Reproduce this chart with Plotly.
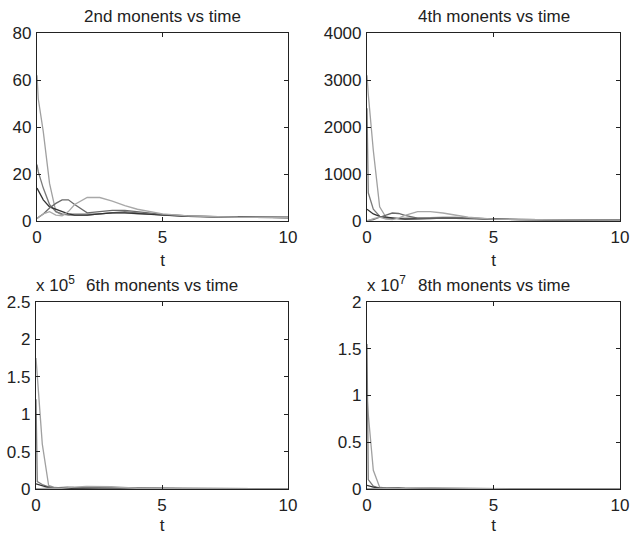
import plotly.graph_objects as go

# shared time samples
t = [0, 0.05, 0.25, 0.5, 0.75, 1.0, 1.25, 1.5, 2.0, 2.5, 3.0, 3.5, 4.0, 5.0, 6.0, 7.0, 8.0, 10.0]

# 2nd moments
m2_a = [62, 52, 38, 16, 4, 2.5, 3, 3, 3, 3, 3.5, 3.5, 3, 2.5, 2, 1.8, 1.6, 1.5]
m2_b = [24, 21, 14, 7, 4, 3, 2.5, 2.5, 2.5, 3, 3.5, 4, 3.5, 2.5, 2, 1.8, 1.6, 1.5]
m2_c = [14, 13, 9, 6, 5, 4, 3, 2.5, 2.5, 3, 3.5, 3.5, 3.2, 2.5, 2, 1.8, 1.6, 1.5]
m2_d = [1, 1.5, 3, 5.5, 7.5, 9, 9, 7, 3.5, 4, 4.5, 4.5, 4, 2.8, 2.2, 1.8, 1.6, 1.5]
m2_e = [1, 1.5, 3, 4, 2.5, 2.2, 4, 7, 10, 10, 8.5, 6.5, 5, 3, 2.2, 1.8, 1.6, 1.5]

# 4th moments
m4_a = [3100, 2700, 1500, 300, 80, 50, 60, 60, 60, 70, 80, 80, 60, 40, 30, 25, 22, 20]
m4_b = [2400, 600, 250, 100, 60, 50, 45, 45, 50, 60, 70, 70, 60, 40, 30, 25, 22, 20]
m4_c = [250, 230, 150, 100, 80, 60, 50, 40, 40, 50, 60, 60, 50, 40, 30, 25, 22, 20]
m4_d = [5, 8, 30, 80, 130, 170, 160, 120, 60, 60, 70, 70, 60, 40, 30, 25, 22, 20]
m4_e = [5, 10, 50, 80, 40, 30, 60, 120, 200, 200, 170, 120, 80, 40, 30, 25, 22, 20]

# 6th moments
m6_a = [175000, 150000, 60000, 5000, 2000, 1500, 1500, 2000, 2000, 2000, 1500, 1200, 800, 500, 400, 300, 250, 200]
m6_b = [120000, 10000, 6000, 3000, 1500, 1000, 1000, 1000, 1200, 1200, 1000, 800, 600, 500, 400, 300, 250, 200]
m6_c = [7000, 6500, 4000, 2000, 1200, 1000, 900, 900, 1000, 1000, 900, 700, 500, 400, 350, 300, 250, 200]
m6_d = [200, 300, 800, 1500, 2000, 2500, 2500, 2000, 1200, 1000, 1000, 800, 600, 400, 350, 300, 250, 200]
m6_e = [200, 300, 1000, 1500, 1000, 800, 1200, 2500, 3500, 3500, 3000, 2000, 1000, 500, 400, 300, 250, 200]

# 8th moments
m8_a = [10000000, 8000000, 2000000, 200000, 80000, 60000, 60000, 80000, 80000, 80000, 60000, 40000, 30000, 20000, 15000, 12000, 10000, 8000]
m8_b = [15500000, 1000000, 300000, 100000, 60000, 50000, 50000, 50000, 60000, 60000, 50000, 40000, 30000, 20000, 15000, 12000, 10000, 8000]
m8_c = [400000, 350000, 200000, 100000, 60000, 50000, 40000, 40000, 50000, 50000, 40000, 30000, 25000, 20000, 15000, 12000, 10000, 8000]
m8_d = [10000, 15000, 40000, 80000, 120000, 150000, 140000, 100000, 60000, 50000, 40000, 30000, 25000, 20000, 15000, 12000, 10000, 8000]
m8_e = [10000, 15000, 50000, 80000, 50000, 40000, 60000, 100000, 150000, 150000, 120000, 80000, 50000, 25000, 15000, 12000, 10000, 8000]

titles = ["2nd monents vs time", "4th monents vs time", "6th monents vs time", "8th monents vs time"]
y_ranges = [[0, 80], [0, 4000], [0, 250000], [0, 20000000]]
y_tickvals = [[0, 20, 40, 60, 80], [0, 1000, 2000, 3000, 4000],
              [0, 50000, 100000, 150000, 200000, 250000],
              [0, 5000000, 10000000, 15000000, 20000000]]
y_ticktext = [["0", "20", "40", "60", "80"], ["0", "1000", "2000", "3000", "4000"],
              ["0", "0.5", "1", "1.5", "2", "2.5"], ["0", "0.5", "1", "1.5", "2"]]
exponents = [None, None, "5", "7"]

series_colors = ["#a0a0a0", "#7a7a7a", "#333333", "#6a6a6a", "#a8a8a8"]
panels = [
    [m2_a, m2_b, m2_c, m2_d, m2_e],
    [m4_a, m4_b, m4_c, m4_d, m4_e],
    [m6_a, m6_b, m6_c, m6_d, m6_e],
    [m8_a, m8_b, m8_c, m8_d, m8_e],
]

W, H = 630, 535
# pixel boxes in window coords: left, right, top, bottom
boxes = [(37, 288, 33, 221), (367, 620, 33, 221), (36, 288, 302, 489), (367, 620, 302, 489)]

fig = go.Figure()
font_family = "Liberation Sans, Arial, Helvetica, sans-serif"
FS = 17
TXT = "#222"

for i, (series, box) in enumerate(zip(panels, boxes)):
    xa = "x" if i == 0 else f"x{i+1}"
    ya = "y" if i == 0 else f"y{i+1}"
    for s, c in zip(series, series_colors):
        fig.add_trace(go.Scatter(x=t, y=s, mode="lines", xaxis=xa, yaxis=ya,
                                 line=dict(color=c, width=1.3), showlegend=False,
                                 hoverinfo="skip"))
    l, r, tp, b = box
    xdom = [l / W, r / W]
    ydom = [1 - b / H, 1 - tp / H]
    axis_common = dict(showgrid=False, zeroline=False, showline=True, linecolor="#222",
                       linewidth=1.2, mirror="ticks", ticks="inside", ticklen=4,
                       tickcolor="#222", automargin=False,
                       tickfont=dict(size=FS, color=TXT, family=font_family))
    xkey = "xaxis" if i == 0 else f"xaxis{i+1}"
    ykey = "yaxis" if i == 0 else f"yaxis{i+1}"
    fig.update_layout({
        xkey: dict(domain=xdom, range=[0, 10], tickvals=[0, 5, 10], ticktext=["0", "5", "10"],
                   anchor=ya,
                   title=dict(text="t", standoff=8, font=dict(size=FS, color=TXT, family=font_family)),
                   **axis_common),
        ykey: dict(domain=ydom, range=y_ranges[i], tickvals=y_tickvals[i], ticktext=y_ticktext[i],
                   anchor=xa, ticklabelstandoff=1, **axis_common),
    })
    # title
    fig.add_annotation(text=titles[i], x=(l + r) / 2 / W, y=1 - (tp - 5) / H, xref="paper", yref="paper",
                       xanchor="center", yanchor="bottom", showarrow=False,
                       font=dict(size=FS, color=TXT, family=font_family))
    if exponents[i]:
        fig.add_annotation(text=f"x 10<sup>{exponents[i]}</sup>", x=(l - 2) / W, y=1 - (tp - 5) / H,
                           xref="paper", yref="paper", xanchor="left", yanchor="bottom",
                           showarrow=False, font=dict(size=FS, color=TXT, family=font_family))

fig.update_layout(width=W, height=H, margin=dict(l=0, r=0, t=0, b=0),
                  template="none",
                  plot_bgcolor="white", paper_bgcolor="white",
                  font=dict(family=font_family, color=TXT))

fig.write_html("out.html", config={"displayModeBar": False},
               post_script="document.body.style.margin='0px';")
